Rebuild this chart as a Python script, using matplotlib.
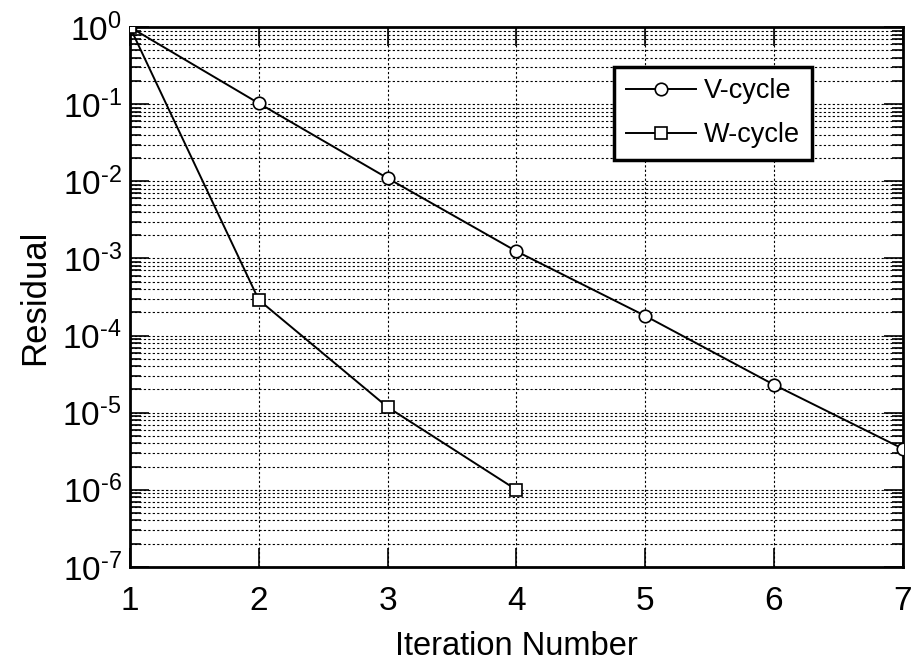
import numpy as np
import matplotlib
matplotlib.use("Agg")
import matplotlib.pyplot as plt
from matplotlib.ticker import LogLocator, FixedLocator, FuncFormatter, NullFormatter

# residual history per multigrid iteration
iterations_v = [1, 2, 3, 4, 5, 6, 7]
residual_v = [1.0, 1.03e-1, 1.1e-2, 1.24e-3, 1.8e-4, 2.3e-5, 3.4e-6]

iterations_w = [1, 2, 3, 4]
residual_w = [1.0, 2.9e-4, 1.18e-5, 1.0e-6]

x_ticks = [1, 2, 3, 4, 5, 6, 7]
y_decades = [0, -1, -2, -3, -4, -5, -6, -7]

plt.rcParams['font.family'] = ['Liberation Sans', 'DejaVu Sans']
plt.rcParams['mathtext.fontset'] = 'custom'
plt.rcParams['mathtext.rm'] = 'Liberation Sans'
plt.rcParams['mathtext.it'] = 'Liberation Sans'


def decade_label(v, pos):
    # plain hyphen in the exponent, like the old plotting package
    e = int(round(np.log10(v)))
    s = str(e).replace('-', '\u2010')
    return r'$10^{%s}$' % s


fig = plt.figure(figsize=(9.12, 6.63), dpi=100)
ax = fig.add_axes([0.1425, 0.145, 0.8475, 0.814])

ax.semilogy(iterations_v, residual_v, color='k', lw=1.4, marker='o', ms=9,
            mfc='white', mec='k', mew=1.2, label='V-cycle', zorder=3)
ax.semilogy(iterations_w, residual_w, color='k', lw=1.4, marker='s', ms=8,
            mfc='white', mec='k', mew=1.2, label='W-cycle', zorder=3)

ax.set_xlim(1, 7)
ax.set_ylim(1e-7, 1)

ax.xaxis.set_major_locator(FixedLocator(x_ticks))
ax.yaxis.set_major_locator(FixedLocator([10.0 ** d for d in y_decades]))
ax.yaxis.set_minor_locator(LogLocator(base=10, subs=np.arange(2, 10), numticks=20))
ax.yaxis.set_major_formatter(FuncFormatter(decade_label))
ax.yaxis.set_minor_formatter(NullFormatter())

ax.tick_params(which='both', direction='in', top=True, right=True, labelsize=24, width=1.2)
ax.tick_params(which='major', length=14)
ax.tick_params(axis='x', which='major', pad=14)
ax.tick_params(axis='y', which='major', pad=6)
ax.tick_params(which='minor', length=8)

ax.grid(True, which='both', axis='y', color='k', linestyle=(0, (2, 2)), linewidth=0.8)
ax.grid(True, which='major', axis='x', color='k', linestyle=(0, (2, 2)), linewidth=0.8)
ax.set_axisbelow(True)

for s in ax.spines.values():
    s.set_linewidth(2)

ax.set_xlabel('Iteration Number', fontsize=23.5, labelpad=10)
ax.set_ylabel('Residual', fontsize=25, labelpad=8)

leg = ax.legend(loc='upper right', bbox_to_anchor=(0.882, 0.926), fontsize=19.5,
                fancybox=False, framealpha=1, edgecolor='k', handlelength=2.6,
                handletextpad=0.3, borderpad=0.42, labelspacing=0.66,
                borderaxespad=0)
leg.get_frame().set_linewidth(2.5)

fig.savefig('out.png', dpi=100)
